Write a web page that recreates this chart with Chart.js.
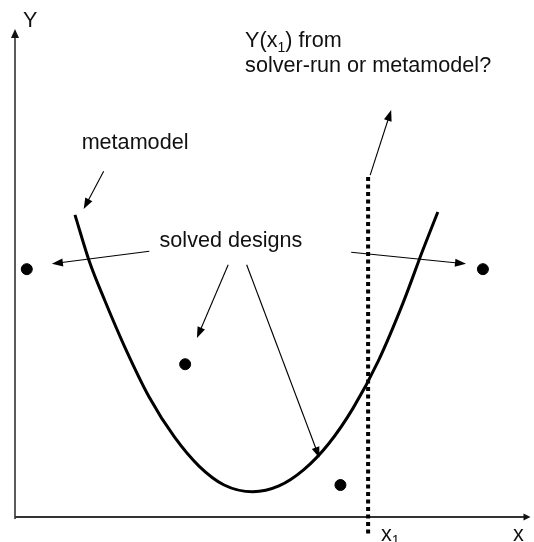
<!DOCTYPE html>
<html>
<head>
<meta charset="utf-8">
<script src="https://cdn.jsdelivr.net/npm/chart.js@4"></script>
<style>
  body { margin: 0; background: #fff; }
</style>
</head>
<body>
<canvas id="sketch" width="534" height="542"></canvas>
<script>
// metamodel curve (x, Y in plot units 0..10)
const curveX = [1.17, 1.46, 1.75, 2.14, 2.62, 3.11, 3.59, 4.08, 4.64, 5.15, 5.63, 6.12, 6.60, 7.09, 7.57, 7.96, 8.25];
const curveY = [6.23, 5.24, 4.47, 3.51, 2.47, 1.65, 1.05, 0.66, 0.52, 0.64, 0.97, 1.51, 2.25, 3.22, 4.41, 5.51, 6.29];

// solved designs
const designX = [0.23, 3.32, 6.35, 9.13];
const designY = [5.11, 3.15, 0.66, 5.11];

// the x1 cut
const cutX = [6.89, 6.89];
const cutY = [7.01, -0.37];

// annotation arrows [fromX, fromY, toX, toY]
const arrows = [
  [1.73, 7.13, 1.34, 6.35],
  [2.62, 5.48, 0.72, 5.22],
  [6.56, 5.46, 8.80, 5.22],
  [4.16, 5.20, 3.55, 3.69],
  [4.52, 5.20, 5.94, 1.22],
  [6.93, 7.05, 7.34, 8.39]
];

const FONT = '21.6px "Liberation Sans", Arial, sans-serif';
const SUB = '14px "Liberation Sans", Arial, sans-serif';

function arrowHead(ctx, x0, y0, x1, y1, len, half) {
  const a = Math.atan2(y1 - y0, x1 - x0);
  ctx.beginPath();
  ctx.moveTo(x1, y1);
  ctx.lineTo(x1 - len * Math.cos(a) + half * Math.sin(a), y1 - len * Math.sin(a) - half * Math.cos(a));
  ctx.lineTo(x1 - len * Math.cos(a) - half * Math.sin(a), y1 - len * Math.sin(a) + half * Math.cos(a));
  ctx.closePath();
  ctx.fill();
}

const sketchPlugin = {
  id: 'sketch',
  beforeDatasetsDraw(chart) {
    const { ctx, chartArea: ca } = chart;
    ctx.save();
    ctx.strokeStyle = '#333';
    ctx.fillStyle = '#111';
    ctx.lineWidth = 1.6;
    // y axis
    ctx.beginPath();
    ctx.moveTo(ca.left, ca.bottom + 2);
    ctx.lineTo(ca.left, ca.top + 4);
    ctx.stroke();
    arrowHead(ctx, ca.left, ca.bottom, ca.left, ca.top - 3, 9, 4);
    // x axis
    ctx.lineWidth = 2;
    ctx.beginPath();
    ctx.moveTo(ca.left, ca.bottom);
    ctx.lineTo(ca.right - 2, ca.bottom);
    ctx.stroke();
    arrowHead(ctx, ca.left, ca.bottom, ca.right + 3, ca.bottom, 7, 3.5);
    ctx.restore();
  },
  afterDatasetsDraw(chart) {
    const { ctx, scales: { x, y } } = chart;
    ctx.save();
    ctx.strokeStyle = '#000';
    ctx.fillStyle = '#000';
    ctx.lineWidth = 1.1;
    arrows.forEach(([ax, ay, bx, by]) => {
      const x0 = x.getPixelForValue(ax), y0 = y.getPixelForValue(ay);
      const x1 = x.getPixelForValue(bx), y1 = y.getPixelForValue(by);
      const a = Math.atan2(y1 - y0, x1 - x0);
      ctx.beginPath();
      ctx.moveTo(x0, y0);
      ctx.lineTo(x1 - 6 * Math.cos(a), y1 - 6 * Math.sin(a));
      ctx.stroke();
      arrowHead(ctx, x0, y0, x1, y1, 11, 4);
    });

    ctx.fillStyle = '#111';
    ctx.textBaseline = 'alphabetic';
    ctx.textAlign = 'left';
    ctx.font = FONT;
    const px = v => x.getPixelForValue(v), py = v => y.getPixelForValue(v);

    ctx.fillText('metamodel', px(1.30), py(7.59));
    ctx.fillText('solved designs', px(2.82), py(5.57));
    ctx.fillText('Y', 23, 27);
    ctx.fillText('x', 513, 541);

    // Y(x1) from
    let tx = px(4.49), ty = py(9.69);
    ctx.fillText('Y(x', tx, ty);
    tx += ctx.measureText('Y(x').width;
    ctx.font = SUB;
    ctx.fillText('1', tx, ty + 5);
    tx += ctx.measureText('1').width;
    ctx.font = FONT;
    ctx.fillText(') from', tx, ty);
    ctx.fillText('solver-run or metamodel?', px(4.49), py(9.69) + 25);

    // x1 label
    tx = px(7.14);
    ctx.fillText('x', tx, 541);
    tx += ctx.measureText('x').width;
    ctx.font = SUB;
    ctx.fillText('1', tx, 545);
    ctx.restore();
  }
};

new Chart(document.getElementById('sketch'), {
  type: 'scatter',
  data: {
    datasets: [
      {
        label: 'metamodel',
        data: curveX.map((v, i) => ({ x: v, y: curveY[i] })),
        showLine: true,
        borderColor: '#000',
        borderWidth: 3,
        pointRadius: 0,
        tension: 0.4,
        cubicInterpolationMode: 'monotone'
      },
      {
        label: 'x1',
        data: cutX.map((v, i) => ({ x: v, y: cutY[i] })),
        showLine: true,
        borderColor: '#000',
        borderWidth: 4,
        borderDash: [4, 3.5],
        pointRadius: 0,
        clip: false
      },
      {
        label: 'solved designs',
        data: designX.map((v, i) => ({ x: v, y: designY[i] })),
        backgroundColor: '#000',
        borderColor: '#000',
        pointRadius: 5.5,
        pointHoverRadius: 5.5
      }
    ]
  },
  options: {
    responsive: false,
    devicePixelRatio: 1,
    animation: false,
    layout: { padding: { left: 15, right: 4, top: 32, bottom: 25 } },
    scales: {
      x: { type: 'linear', min: 0, max: 10, display: false },
      y: { type: 'linear', min: 0, max: 10, display: false }
    },
    plugins: {
      legend: { display: false },
      tooltip: { enabled: false }
    }
  },
  plugins: [sketchPlugin]
});
</script>
</body>
</html>
